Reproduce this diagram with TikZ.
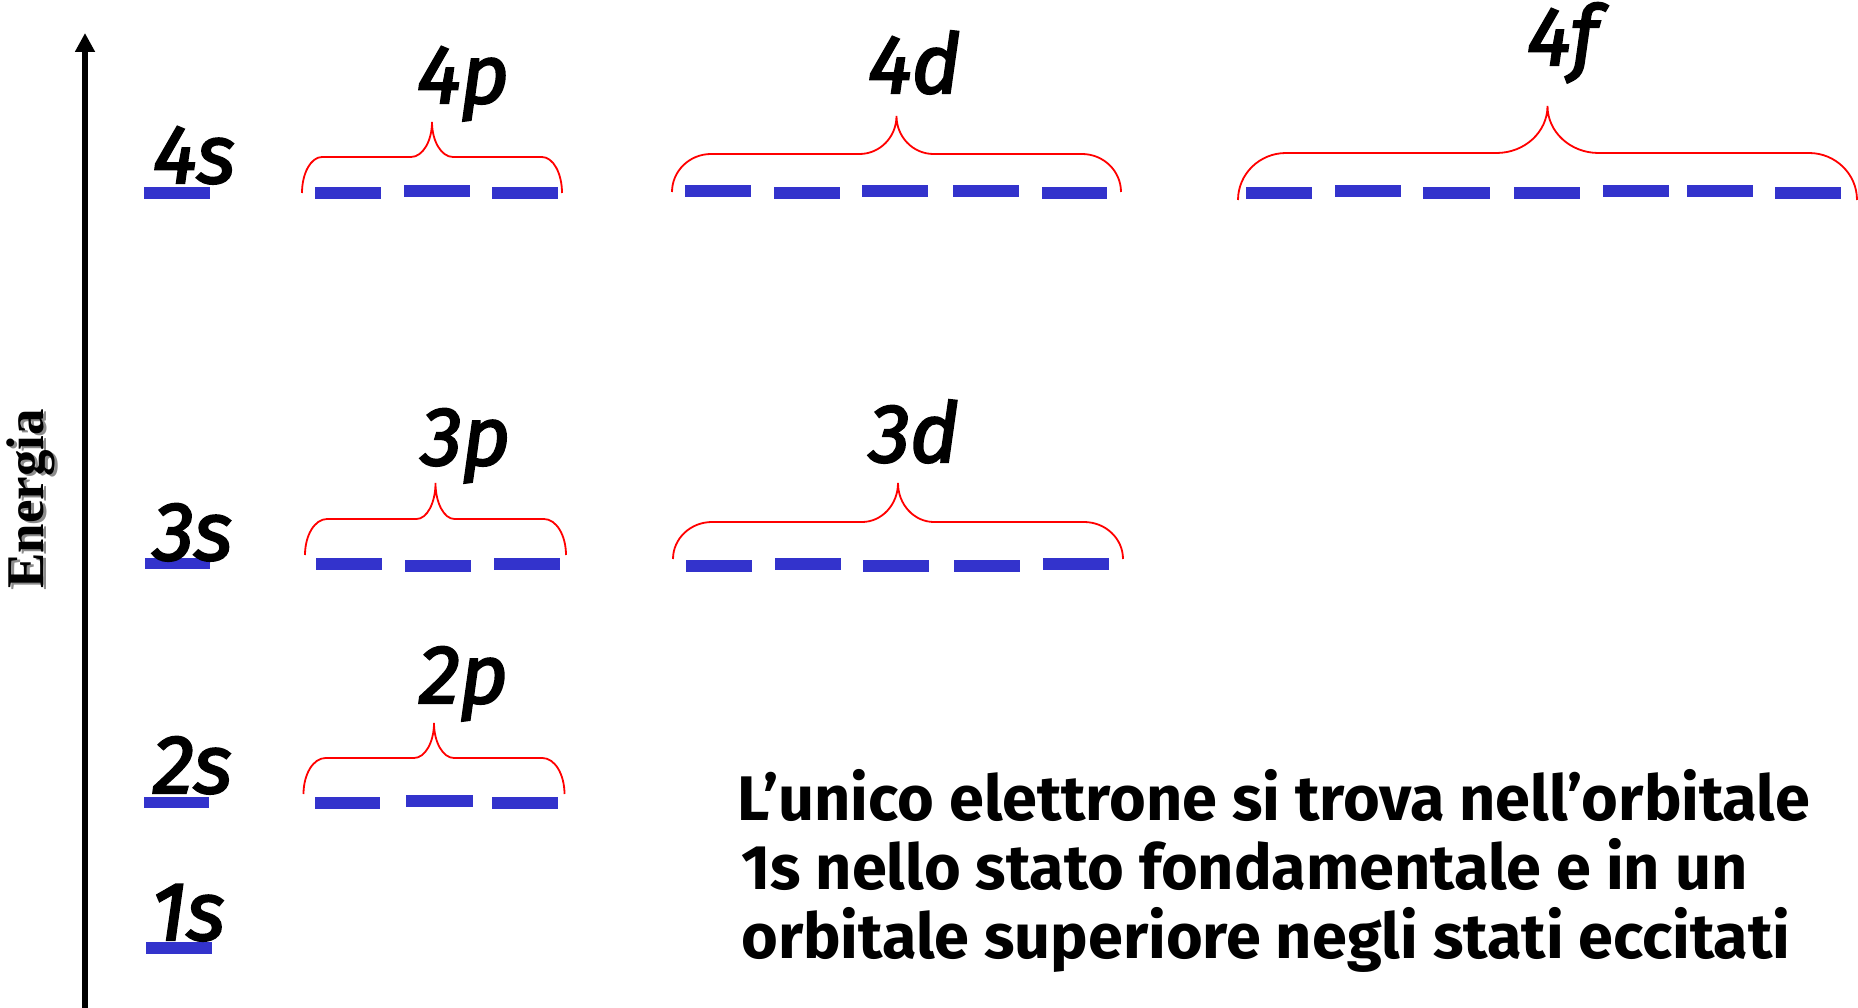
\documentclass[tikz,border=0pt]{standalone}
\usepackage{fontspec}
\setmainfont{Fira Sans}
\newfontfamily\energiafont{Liberation Serif}
\newfontfamily\lblff[FakeBold=2.6]{Fira Sans}
\usetikzlibrary{arrows.meta}
\definecolor{orbblue}{RGB}{51,51,204}
\definecolor{bracered}{RGB}{255,0,0}
\tikzset{
  orb/.style={fill=orbblue},
  bracestyle/.style={draw=bracered, line width=1.8pt},
  lbl/.style={anchor=base west, inner sep=0pt, font=\lblff\fontsize{83}{90}\selectfont\itshape},
  para/.style={anchor=base west, inner sep=0pt, font=\fontsize{63}{70}\selectfont\bfseries},
  axis/.style={line width=5.5pt, -{Triangle[width=19pt,length=19pt]}}
}
\newcommand\orbbrace[7]{%
  \pgfmathsetmacro\bxc{(#1+#2)/2}%
  \draw[bracestyle] (#1,#3) .. controls (#1,{#3-0.552*(#3-#4)}) and ({#1+0.448*#6},#4) .. ({#1+#6},#4)
    -- ({\bxc-#7},#4) .. controls ({\bxc-0.448*#7},#4) and (\bxc,{#5+0.552*(#4-#5)}) .. (\bxc,#5)
    .. controls (\bxc,{#5+0.552*(#4-#5)}) and ({\bxc+0.448*#7},#4) .. ({\bxc+#7},#4)
    -- ({#2-#6},#4) .. controls ({#2-0.448*#6},#4) and (#2,{#3-0.552*(#3-#4)}) .. (#2,#3);}
\begin{document}
\begin{tikzpicture}[x=1pt,y=-1pt]
\useasboundingbox (0,0) rectangle (1858,1008);
\fill[white] (0,0) rectangle (1858,1008);
% axis
\coordinate (axb) at (85,1008);
\coordinate (axt) at (85,33);
\draw[axis] (axb) -- (axt);
\node[rotate=90, anchor=base, inner sep=0pt, text=black!45, font=\energiafont\fontsize{53}{60}\selectfont\bfseries] (energiash) at (46,501) {Energia};
\node[rotate=90, anchor=base, inner sep=0pt, font=\energiafont\fontsize{53}{60}\selectfont\bfseries] (energia) at (43,499) {Energia};
% 4s
\fill[orb] (143.5,187) rectangle (209.7,199);
\node[lbl] (l4s) at (153,183) {4s};
% 4p
\fill[orb] (314.6,187) rectangle (380.8,199);
\fill[orb] (403.7,185) rectangle (469.6,197);
\fill[orb] (492.2,187) rectangle (558,199);
\orbbrace{302}{562}{193}{157}{122}{20}{21}
\node[lbl] (l4p) at (417,103) {4p};
% 4d
\fill[orb] (685,185) rectangle (751,197);
\fill[orb] (774,187) rectangle (840,199);
\fill[orb] (862,185) rectangle (928,197);
\fill[orb] (953,185) rectangle (1019,197);
\fill[orb] (1042,187) rectangle (1107,199);
\orbbrace{672}{1121}{192}{154}{116}{39}{37}
\node[lbl] (l4d) at (868,93) {4d};
% 4f
\fill[orb] (1246,187) rectangle (1312,199);
\fill[orb] (1335,185) rectangle (1401,197);
\fill[orb] (1423,187) rectangle (1490,199);
\fill[orb] (1514,187) rectangle (1580,199);
\fill[orb] (1603,185) rectangle (1669,197);
\fill[orb] (1687,185) rectangle (1753,197);
\fill[orb] (1775,187) rectangle (1841,199);
\orbbrace{1238}{1857}{200}{153}{106}{48}{51}
\node[lbl] (l4f) at (1527,65) {4f};
% 3s
\fill[orb] (145,558) rectangle (210,569);
\node[lbl] (l3s) at (153,560) {3s};
% 3p
\fill[orb] (316,558) rectangle (382,570);
\fill[orb] (405,560) rectangle (471,572);
\fill[orb] (494,558) rectangle (560,570);
\orbbrace{305}{566}{555}{519}{483}{22}{19}
\node[lbl] (l3p) at (421,465) {3p};
% 3d
\fill[orb] (686,560) rectangle (752,572);
\fill[orb] (775,558) rectangle (841,570);
\fill[orb] (863,560) rectangle (929,572);
\fill[orb] (954,560) rectangle (1020,572);
\fill[orb] (1043,558) rectangle (1109,570);
\orbbrace{673}{1123}{559}{522}{483}{39}{36}
\node[lbl] (l3d) at (869,462) {3d};
% 2s
\fill[orb] (143.5,797) rectangle (209,808);
\node[lbl] (l2s) at (153,793) {2s};
% 2p
\fill[orb] (314.6,797) rectangle (380.4,809);
\fill[orb] (406,795) rectangle (473,807);
\fill[orb] (492,797) rectangle (558,809);
\orbbrace{303.5}{564.5}{794}{758}{723}{22}{20}
\node[lbl] (l2p) at (419,703) {2p};
% 1s
\fill[orb] (146,942) rectangle (212,954);
\node[lbl] (l1s) at (151,940) {1s};
% text
\node[para] (t1) at (737,820) {L’unico elettrone si trova nell’orbitale};
\node[para] (t2) at (741,889) {1s nello stato fondamentale e in un};
\node[para] (t3) at (741,958) {orbitale superiore negli stati eccitati};
\end{tikzpicture}
\end{document}
